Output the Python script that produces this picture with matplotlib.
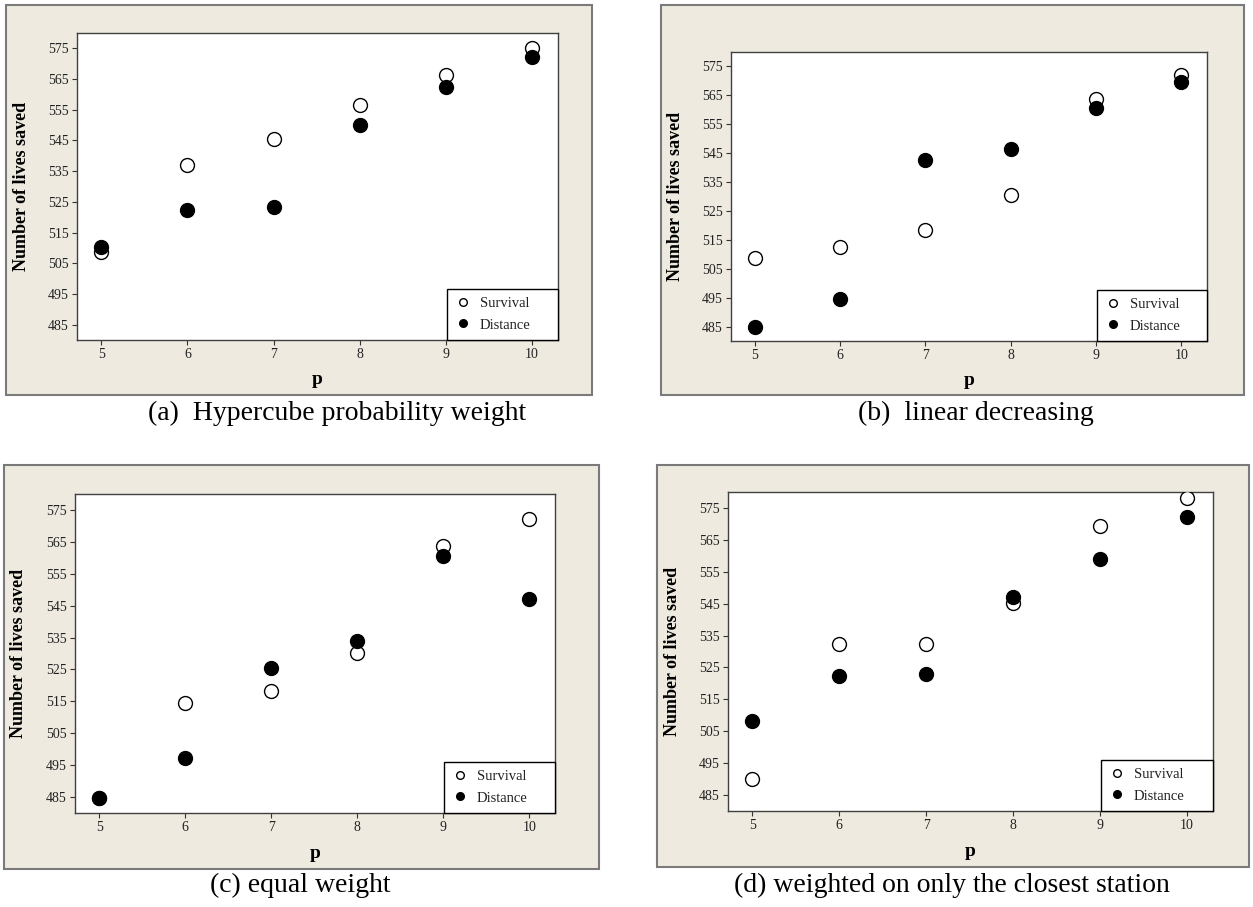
import matplotlib
matplotlib.use("Agg")
import matplotlib.pyplot as plt
from matplotlib.patches import Rectangle
from matplotlib.lines import Line2D

plt.rcParams['font.family'] = ['Liberation Serif', 'DejaVu Serif']

W, H = 1253, 907

p_values = [5, 6, 7, 8, 9, 10]
y_ticks = [485, 495, 505, 515, 525, 535, 545, 555, 565, 575]

survival_a = [508.7, 536.9, 545.4, 556.4, 566.3, 575.2]
distance_a = [510.4, 522.4, 523.3, 550.0, 562.3, 572.3]

survival_b = [508.8, 512.4, 518.4, 530.6, 563.6, 572.1]
distance_b = [484.9, 494.4, 542.8, 546.3, 560.6, 569.5]

survival_c = [484.8, 514.5, 518.1, 530.2, 563.6, 572.2]
distance_c = [484.7, 497.2, 525.3, 534.0, 560.5, 547.0]

survival_d = [490.1, 532.5, 532.5, 545.3, 569.2, 578.2]
distance_d = [508.3, 522.3, 522.9, 547.2, 559.1, 572.2]

captions = ["(a)  Hypercube probability weight", "(b)  linear decreasing",
            "(c) equal weight", "(d) weighted on only the closest station"]

series = [(survival_a, distance_a), (survival_b, distance_b),
          (survival_c, distance_c), (survival_d, distance_d)]

# layout in pixels: box (x0,y0,x1,y1), axes (x0,y0,x1,y1), caption (x,y), ylabel x, xlabel y, legend (w,h)
layouts = [
    dict(box=(6, 5, 592, 395), ax=(77, 33, 558, 340), cap=(337, 413), ylab=22, xlab=380, leg=(111, 51)),
    dict(box=(661, 5, 1244, 395), ax=(731, 52, 1207, 341), cap=(976, 413), ylab=676, xlab=380, leg=(110, 51)),
    dict(box=(4, 465, 599, 869), ax=(75, 494, 555, 813), cap=(300, 885), ylab=19, xlab=853, leg=(111, 52)),
    dict(box=(657, 465, 1249, 867), ax=(728, 492, 1213, 811), cap=(952, 885), ylab=672, xlab=851, leg=(112, 53)),
]

fig = plt.figure(figsize=(W / 100, H / 100), dpi=100)
fig.patch.set_facecolor('white')

def fx(x):
    return x / W

def fy(y):
    return 1 - y / H

for (surv, dist), lay, cap in zip(series, layouts, captions):
    bx0, by0, bx1, by1 = lay['box']
    fig.patches.append(Rectangle((fx(bx0), fy(by1)), fx(bx1 - bx0), (by1 - by0) / H,
                                 transform=fig.transFigure, facecolor='#EEEAE0',
                                 edgecolor='#7a7a7a', linewidth=1.5, zorder=-5))
    ax0, ay0, ax1, ay1 = lay['ax']
    ax = fig.add_axes([fx(ax0), fy(ay1), fx(ax1 - ax0), (ay1 - ay0) / H])
    ax.set_zorder(1)
    ax.set_facecolor('white')
    ax.scatter(p_values, surv, s=100, facecolors='white', edgecolors='black',
               linewidths=1.0, zorder=3)
    ax.scatter(p_values, dist, s=100, facecolors='black', edgecolors='black',
               linewidths=1.0, zorder=4)
    ax.set_xlim(4.72, 10.3)
    ax.set_ylim(480, 580)
    ax.set_xticks(p_values)
    ax.set_yticks(y_ticks)
    ax.tick_params(direction='out', length=3.5, width=0.8, color='#333333',
                   labelsize=10, labelcolor='#222222', pad=2.5)
    for sp in ax.spines.values():
        sp.set_color('#404040')
        sp.set_linewidth(1.0)
    ax.set_ylabel('Number of lives saved', fontsize=13, fontweight='bold', va='center')
    ax.set_xlabel('p', fontsize=14, fontweight='bold', va='center')
    axw = ax1 - ax0
    axh = ay1 - ay0
    ax.yaxis.set_label_coords((lay['ylab'] - ax0) / axw, 0.5)
    ax.xaxis.set_label_coords(0.5, (ay1 - lay['xlab']) / axh)
    handles = [Line2D([], [], linestyle='none', marker='o', markersize=5.5,
                      markerfacecolor='white', markeredgecolor='black', markeredgewidth=1.0),
               Line2D([], [], linestyle='none', marker='o', markersize=5.5,
                      markerfacecolor='black', markeredgecolor='black')]
    lw, lh = lay['leg']
    leg = ax.legend(handles, ['Survival', 'Distance'], loc='lower right',
                    bbox_to_anchor=(1 - lw / axw, 0, lw / axw, lh / axh), mode='expand',
                    borderaxespad=0, fancybox=False, framealpha=1,
                    edgecolor='black', fontsize=10.5, handlelength=1.0,
                    handletextpad=0.66, borderpad=0.58, labelspacing=0.55)
    leg.get_frame().set_linewidth(1.0)
    for t in leg.get_texts():
        t.set_color('#222222')
    fig.text(fx(lay['cap'][0]), fy(lay['cap'][1]), cap, ha='center', va='center',
             fontsize=20, color='black')

fig.savefig('out.png', dpi=100)
